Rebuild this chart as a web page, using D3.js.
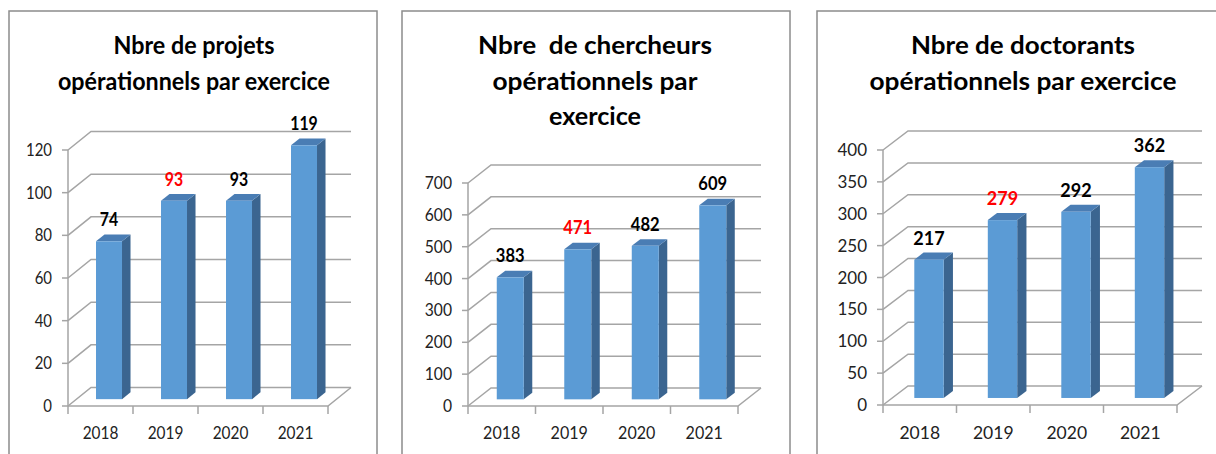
<!DOCTYPE html>
<html>
<head>
<meta charset="utf-8">
<script src="https://cdn.jsdelivr.net/npm/d3@7"></script>
<style>
  body { margin: 0; background: #fff; }
  svg { display: block; }
  text { font-family: Lato, "Open Sans", sans-serif; white-space: pre; }
</style>
</head>
<body>
<div id="chart"></div>
<script>
// data
const years = ["2018", "2019", "2020", "2021"];
const projets = [74, 93, 93, 119];
const chercheurs = [383, 471, 482, 609];
const doctorants = [217, 279, 292, 362];
const highlightYear = "2019";

const titreProjets = ["Nbre de projets", "opérationnels par exercice"];
const titreChercheurs = ["Nbre  de chercheurs", "opérationnels par", "exercice"];
const titreDoctorants = ["Nbre de doctorants", "opérationnels par exercice"];

const ticksProjets = [0, 20, 40, 60, 80, 100, 120];
const ticksChercheurs = [0, 100, 200, 300, 400, 500, 600, 700];
const ticksDoctorants = [0, 50, 100, 150, 200, 250, 300, 350, 400];

const width = 1216, height = 454;

// layout of each panel (pixels), the picture is stretched differently in each one
const panels = [
    { values: projets, title: titreProjets, ticks: ticksProjets,
      box: [9, 11, 368], cx: 194, titleW: [161, 272],
      x0: 68, x1: 328, y0: 406, yTop: 150, dx: 23, dy: 18.5, sx: 0.88 },
    { values: chercheurs, title: titreChercheurs, ticks: ticksChercheurs,
      box: [402, 11, 388], cx: 595, titleW: [234, 205, 92],
      x0: 468, x1: 738, y0: 406, yTop: 183, dx: 23, dy: 18, sx: 0.92 },
    { values: doctorants, title: titreDoctorants, ticks: ticksDoctorants,
      box: [817, 11, 420], cx: 1023, titleW: [224, 307],
      x0: 883, x1: 1177, y0: 405, yTop: 150, dx: 25, dy: 19, sx: 1.0 }
];

const gridColor = "#a5a5a5";
const frontColor = "#5b9bd5";
const sideColor = "#3b6590";
const topColor = "#4a7db4";

const svg = d3.select("#chart").append("svg")
    .attr("width", width)
    .attr("height", height);

panels.forEach(p => drawPanel(p));

function drawPanel(p) {
    const g = svg.append("g");
    const maxTick = d3.max(p.ticks);

    const yScale = d3.scaleLinear().domain([0, maxTick]).range([p.y0, p.yTop]);
    const xScale = d3.scaleBand().domain(years).range([p.x0, p.x1]).paddingInner(0);

    // depth helpers: f = 0 front plane, f = 1 back wall
    const sh = f => [f * p.dx, -f * p.dy];

    // panel frame
    g.append("rect")
        .attr("x", p.box[0]).attr("y", p.box[1])
        .attr("width", p.box[2]).attr("height", 500)
        .attr("fill", "none")
        .attr("stroke", "#8c8c8c")
        .attr("stroke-width", 1.5);

    // title
    p.title.forEach((line, i) => {
        g.append("text")
            .attr("x", p.cx)
            .attr("y", 54 + i * 35.5)
            .attr("text-anchor", "middle")
            .attr("font-size", 25)
            .attr("font-weight", "bold")
            .attr("fill", "#000")
            .attr("textLength", p.titleW[i])
            .attr("lengthAdjust", "spacingAndGlyphs")
            .text(line);
    });

    // back wall gridlines + side wall diagonals
    const [bx, by] = sh(1);
    p.ticks.forEach(t => {
        const y = yScale(t);
        g.append("polyline")
            .attr("points", [[p.x0, y], [p.x0 + bx, y + by], [p.x1 + bx, y + by]].join(" "))
            .attr("fill", "none")
            .attr("stroke", gridColor)
            .attr("stroke-width", 1.5);
        // tick mark on the front axis
        g.append("line")
            .attr("x1", p.x0 - 6).attr("x2", p.x0)
            .attr("y1", y).attr("y2", y)
            .attr("stroke", gridColor).attr("stroke-width", 1.5);
        g.append("text")
            .attr("transform", `translate(${p.x0 - 16},${y + 6}) scale(${p.sx},1)`)
            .attr("text-anchor", "end")
            .attr("font-size", 17)
            .attr("fill", "#222")
            .text(t);
    });

    // front axis + floor
    g.append("line")
        .attr("x1", p.x0).attr("x2", p.x0)
        .attr("y1", yScale(maxTick)).attr("y2", p.y0)
        .attr("stroke", gridColor).attr("stroke-width", 1.5);
    g.append("polyline")
        .attr("points", [[p.x0, p.y0], [p.x1, p.y0], [p.x1 + bx, p.y0 + by]].join(" "))
        .attr("fill", "none")
        .attr("stroke", gridColor).attr("stroke-width", 1.5);

    // x ticks and year labels
    xScale.domain().concat(["end"]).forEach((d, i) => {
        const x = i < years.length ? xScale(d) : p.x1;
        g.append("line")
            .attr("x1", x).attr("x2", x)
            .attr("y1", p.y0).attr("y2", p.y0 + 8)
            .attr("stroke", gridColor).attr("stroke-width", 1.5);
    });
    years.forEach(d => {
        g.append("text")
            .attr("transform", `translate(${xScale(d) + xScale.bandwidth() / 2},439) scale(${p.sx},1)`)
            .attr("text-anchor", "middle")
            .attr("font-size", 17.5)
            .attr("fill", "#222")
            .text(d);
    });

    // 3d bars
    const bw = xScale.bandwidth() * 0.4;
    const fFront = 0.37, fBack = 0.74;
    const [fx, fy] = sh(fFront);
    const [kx, ky] = sh(fBack);

    years.forEach((d, i) => {
        const v = p.values[i];
        const left = xScale(d) + (xScale.bandwidth() - bw) / 2 + fx;
        const right = left + bw;
        const top = yScale(v) + fy;
        const bottom = yScale(0) + fy;
        const ddx = kx - fx, ddy = ky - fy;

        // side face
        g.append("polygon")
            .attr("points", [[right, top], [right + ddx, top + ddy], [right + ddx, bottom + ddy], [right, bottom]].join(" "))
            .attr("fill", sideColor);
        // top face
        g.append("polygon")
            .attr("points", [[left, top], [left + ddx, top + ddy], [right + ddx, top + ddy], [right, top]].join(" "))
            .attr("fill", topColor);
        // front face
        g.append("rect")
            .attr("x", left).attr("y", top)
            .attr("width", bw).attr("height", bottom - top)
            .attr("fill", frontColor);

        // value label
        g.append("text")
            .attr("transform", `translate(${left + bw / 2},${top - 15}) scale(${p.sx},1)`)
            .attr("text-anchor", "middle")
            .attr("font-size", 18)
            .attr("font-weight", "bold")
            .attr("fill", d === highlightYear ? "#ff0000" : "#000")
            .text(v);
    });
}
</script>
</body>
</html>
